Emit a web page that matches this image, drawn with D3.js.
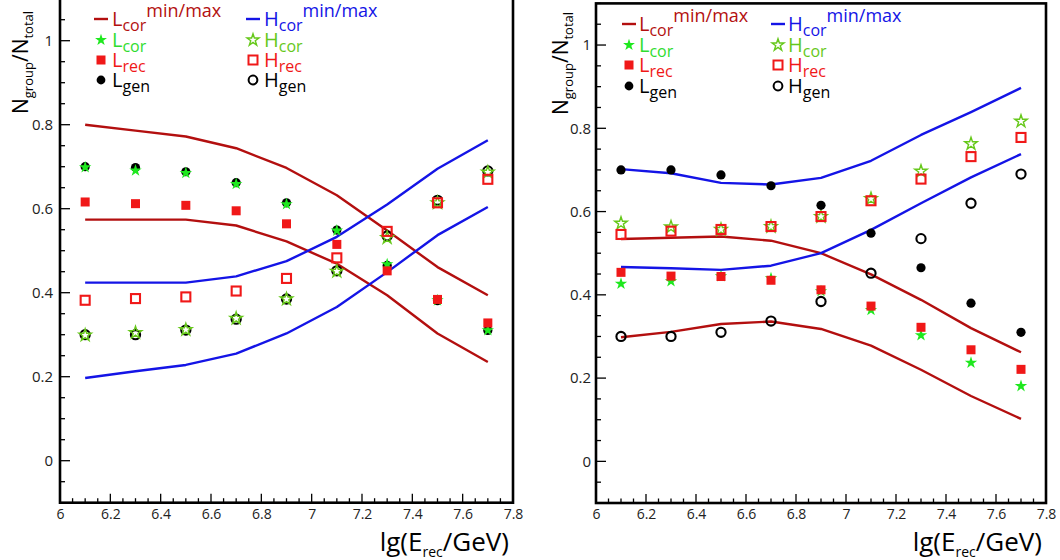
<!DOCTYPE html>
<html><head><meta charset="utf-8">
<script src="https://cdn.jsdelivr.net/npm/d3@7"></script>
<style>
html,body{margin:0;padding:0;background:#fff;}
svg{display:block;font-family:"Open Sans","Noto Sans",sans-serif;}
</style></head>
<body><svg id="c" width="1060" height="560"></svg>
<script>
// ---------- data ----------
const energies = [6.1, 6.3, 6.5, 6.7, 6.9, 7.1, 7.3, 7.5, 7.7];
const xTickValues = [6, 6.2, 6.4, 6.6, 6.8, 7, 7.2, 7.4, 7.6, 7.8];
const xTickLabels = ["6", "6.2", "6.4", "6.6", "6.8", "7", "7.2", "7.4", "7.6", "7.8"];
const yTickValues = [0, 0.2, 0.4, 0.6, 0.8, 1];
const yTickLabels = ["0", "0.2", "0.4", "0.6", "0.8", "1"];

// left panel
const leftLcorMax = [0.800, 0.786, 0.772, 0.744, 0.697, 0.632, 0.548, 0.461, 0.394];
const leftLcorMin = [0.574, 0.574, 0.574, 0.560, 0.522, 0.469, 0.394, 0.303, 0.235];
const leftHcorMax = [0.424, 0.424, 0.424, 0.439, 0.475, 0.533, 0.610, 0.695, 0.763];
const leftHcorMin = [0.197, 0.213, 0.228, 0.255, 0.303, 0.366, 0.449, 0.537, 0.604];
const leftLgen = [0.700, 0.698, 0.688, 0.662, 0.614, 0.549, 0.465, 0.381, 0.310];
const leftHgen = [0.300, 0.300, 0.311, 0.337, 0.385, 0.452, 0.535, 0.620, 0.690];
const leftLcor = [0.700, 0.692, 0.686, 0.660, 0.612, 0.549, 0.469, 0.383, 0.312];
const leftHcor = [0.300, 0.306, 0.313, 0.340, 0.386, 0.452, 0.532, 0.615, 0.688];
const leftLrec = [0.616, 0.612, 0.608, 0.595, 0.564, 0.515, 0.452, 0.384, 0.328];
const leftHrec = [0.382, 0.386, 0.390, 0.404, 0.434, 0.483, 0.546, 0.614, 0.670];

// right panel
const rightLcorMax = [0.534, 0.537, 0.540, 0.530, 0.500, 0.449, 0.388, 0.320, 0.262];
const rightLcorMin = [0.298, 0.311, 0.330, 0.336, 0.318, 0.278, 0.220, 0.157, 0.102];
const rightHcorMax = [0.702, 0.692, 0.669, 0.665, 0.681, 0.722, 0.784, 0.839, 0.897];
const rightHcorMin = [0.467, 0.464, 0.460, 0.470, 0.500, 0.556, 0.620, 0.682, 0.738];
const rightLgen = [0.700, 0.700, 0.688, 0.662, 0.615, 0.548, 0.465, 0.380, 0.310];
const rightHgen = [0.300, 0.300, 0.310, 0.337, 0.384, 0.452, 0.535, 0.620, 0.690];
const rightLcor = [0.428, 0.434, 0.446, 0.441, 0.410, 0.365, 0.304, 0.238, 0.182];
const rightHcor = [0.573, 0.564, 0.558, 0.565, 0.589, 0.632, 0.698, 0.764, 0.818];
const rightLrec = [0.454, 0.445, 0.444, 0.435, 0.412, 0.373, 0.322, 0.268, 0.221];
const rightHrec = [0.545, 0.553, 0.557, 0.564, 0.588, 0.626, 0.678, 0.732, 0.778];

// ---------- style ----------
const C = {
  lcorLine: "#b30f0f", hcorLine: "#1414e6",
  lcorStar: "#1ee81e", hcorStar: "#66c81a",
  rec: "#f01818", gen: "#000000",
  lcorText: "#2fdc2f", hcorText: "#66c81a"
};

const svg = d3.select("#c");

function drawPanel(cfg) {
  const x = d3.scaleLinear().domain([6, 7.8]).range([cfg.x0, cfg.x1]);
  const y = d3.scaleLinear().domain([-0.1, 1.1]).range([cfg.y0, cfg.y1]);
  const g = svg.append("g");

  // ticks (inward)
  const isMajor = d => Math.abs(d * 5 - Math.round(d * 5)) < 1e-6;
  const xMinor = d3.range(6, 7.8001, 0.05);
  g.selectAll(".xmin").data(xMinor).enter().append("line")
    .attr("x1", d => x(d)).attr("x2", d => x(d))
    .attr("y1", cfg.y0).attr("y2", d => cfg.y0 - (isMajor(d) ? 9 : 4.5))
    .attr("stroke", "#000").attr("stroke-width", 1.3);
  const yMinor = d3.range(-0.1, 1.1001, 0.05);
  g.selectAll(".ymin").data(yMinor).enter().append("line")
    .attr("y1", d => y(d)).attr("y2", d => y(d))
    .attr("x1", cfg.x0).attr("x2", d => cfg.x0 + (isMajor(d) ? 10 : 5))
    .attr("stroke", "#000").attr("stroke-width", 1.3);

  // tick labels via axes
  const xAxis = d3.axisBottom(x).tickValues(xTickValues).tickSize(0).tickPadding(6)
    .tickFormat((d, i) => xTickLabels[i]);
  const xa = g.append("g").attr("transform", `translate(0,${cfg.y0})`).call(xAxis);
  xa.select(".domain").remove();
  xa.selectAll("text").attr("font-size", 14).attr("font-family", "Open Sans, sans-serif").attr("fill", "#222");

  const yAxis = d3.axisLeft(y).tickValues(yTickValues).tickSize(0).tickPadding(cfg.yPad)
    .tickFormat((d, i) => yTickLabels[i]);
  const ya = g.append("g").attr("transform", `translate(${cfg.x0},0)`).call(yAxis);
  ya.select(".domain").remove();
  ya.selectAll("text").attr("font-size", 15).attr("font-family", "Open Sans, sans-serif").attr("fill", "#222");

  // frame
  g.append("rect").attr("x", cfg.x0).attr("y", cfg.y1)
    .attr("width", cfg.x1 - cfg.x0).attr("height", cfg.y0 - cfg.y1)
    .attr("fill", "none").attr("stroke", "#000").attr("stroke-width", 2.6);

  const line = d3.line().x((d, i) => x(energies[i])).y(d => y(d));
  const lines = [[cfg.LcorMax, C.lcorLine], [cfg.LcorMin, C.lcorLine], [cfg.HcorMax, C.hcorLine], [cfg.HcorMin, C.hcorLine]];
  lines.forEach(([arr, col]) => {
    g.append("path").datum(arr).attr("d", line).attr("fill", "none")
      .attr("stroke", col).attr("stroke-width", 2.4).attr("stroke-linejoin", "round");
  });

  const star = d3.symbol().type(d3.symbolStar).size(48);
  const pts = (arr) => arr.map((v, i) => [x(energies[i]), y(v)]);

  // H markers
  g.selectAll(".hgen").data(pts(cfg.Hgen)).enter().append("circle")
    .attr("cx", d => d[0]).attr("cy", d => d[1]).attr("r", 4.6)
    .attr("fill", "none").attr("stroke", C.gen).attr("stroke-width", 2.1);
  g.selectAll(".hcor").data(pts(cfg.Hcor)).enter().append("path")
    .attr("d", star).attr("transform", d => `translate(${d[0]},${d[1] + 0.5})`)
    .attr("fill", "none").attr("stroke", C.hcorStar).attr("stroke-width", 1.4);
  g.selectAll(".hrec").data(pts(cfg.Hrec)).enter().append("rect")
    .attr("x", d => d[0] - 4.5).attr("y", d => d[1] - 4.5).attr("width", 9).attr("height", 9)
    .attr("fill", "none").attr("stroke", C.rec).attr("stroke-width", 2.1);

  // L markers
  g.selectAll(".lgen").data(pts(cfg.Lgen)).enter().append("circle")
    .attr("cx", d => d[0]).attr("cy", d => d[1]).attr("r", 4.6).attr("fill", C.gen);
  g.selectAll(".lcor").data(pts(cfg.Lcor)).enter().append("path")
    .attr("d", star).attr("transform", d => `translate(${d[0]},${d[1] + 0.5})`)
    .attr("fill", C.lcorStar);
  g.selectAll(".lrec").data(pts(cfg.Lrec)).enter().append("rect")
    .attr("x", d => d[0] - 4.5).attr("y", d => d[1] - 4.5).attr("width", 9).attr("height", 9)
    .attr("fill", C.rec);

  // y title
  const yt = svg.append("text").attr("transform", `translate(${cfg.yTitleX},${cfg.yTitleY}) rotate(-90)`)
    .attr("font-size", 21).attr("fill", "#000");
  yt.append("tspan").text("N");
  yt.append("tspan").attr("font-size", 13).attr("dy", 5).text("group");
  yt.append("tspan").attr("dy", -5).text("/N");
  yt.append("tspan").attr("font-size", 13).attr("dy", 5).text("total");

  // x title
  const xt = svg.append("text").attr("x", cfg.x1 - 4).attr("y", 551).attr("text-anchor", "end")
    .attr("font-size", 26).attr("fill", "#000");
  xt.append("tspan").text("lg(E");
  xt.append("tspan").attr("font-size", 14).attr("dy", 6).text("rec");
  xt.append("tspan").attr("dy", -6).text("/GeV)");

  // legend
  const L = cfg.leg;
  const lg = svg.append("g");
  function label(xp, yp, main, sub, col, sup) {
    const t = lg.append("text").attr("x", xp).attr("y", yp).attr("font-size", 20).attr("fill", col);
    t.append("tspan").text(main);
    t.append("tspan").attr("font-size", 16).attr("dy", 5).text(sub);
    if (sup) t.append("tspan").attr("font-size", 18).attr("dy", -14).text(sup);
  }
  const cols = [[L.c1, "L", C.lcorLine, C.lcorText], [L.c2, "H", C.hcorLine, C.hcorText]];
  cols.forEach(([cx, ch, lcol, starCol], k) => {
    const isL = k === 0;
    lg.append("line").attr("x1", cx - 7).attr("x2", cx + 7).attr("y1", L.r[0]).attr("y2", L.r[0])
      .attr("stroke", lcol).attr("stroke-width", 2.4);
    label(cx + L.tx, L.r[0] + 7, ch, "cor", lcol, "min/max");
    lg.append("path").attr("d", d3.symbol().type(d3.symbolStar).size(44)())
      .attr("transform", `translate(${cx},${L.r[1]})`)
      .attr("fill", isL ? C.lcorStar : "none").attr("stroke", isL ? "none" : C.hcorStar).attr("stroke-width", 1.4);
    label(cx + L.tx, L.r[1] + 7, ch, "cor", starCol);
    lg.append("rect").attr("x", cx - 4.5).attr("y", L.r[2] - 4.5).attr("width", 9).attr("height", 9)
      .attr("fill", isL ? C.rec : "none").attr("stroke", isL ? "none" : C.rec).attr("stroke-width", 2);
    label(cx + L.tx, L.r[2] + 7, ch, "rec", C.rec);
    lg.append("circle").attr("cx", cx).attr("cy", L.r[3]).attr("r", 4.4)
      .attr("fill", isL ? C.gen : "none").attr("stroke", isL ? "none" : C.gen).attr("stroke-width", 2);
    label(cx + L.tx, L.r[3] + 7, ch, "gen", C.gen);
  });
}

drawPanel({
  x0: 60, x1: 513, y0: 502.7, y1: -1.3, yPad: 7,
  LcorMax: leftLcorMax, LcorMin: leftLcorMin, HcorMax: leftHcorMax, HcorMin: leftHcorMin,
  Lgen: leftLgen, Hgen: leftHgen, Lcor: leftLcor, Hcor: leftHcor, Lrec: leftLrec, Hrec: leftHrec,
  yTitleX: 28, yTitleY: 114,
  leg: { c1: 101, c2: 253, tx: 11, r: [19, 40, 60, 80] }
});
drawPanel({
  x0: 596, x1: 1046, y0: 503, y1: 3.4, yPad: 5,
  LcorMax: rightLcorMax, LcorMin: rightLcorMin, HcorMax: rightHcorMax, HcorMin: rightHcorMin,
  Lgen: rightLgen, Hgen: rightHgen, Lcor: rightLcor, Hcor: rightHcor, Lrec: rightLrec, Hrec: rightHrec,
  yTitleX: 568, yTitleY: 115,
  leg: { c1: 629, c2: 778, tx: 10, r: [24, 45, 65, 86] }
});
</script></body></html>
